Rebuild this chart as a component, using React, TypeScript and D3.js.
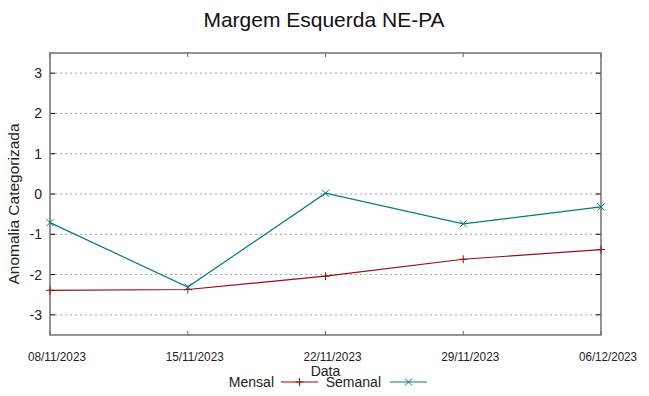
import React from "react";
import * as d3 from "d3";

const dates = ["2023-11-08", "2023-11-15", "2023-11-22", "2023-11-29", "2023-12-06"];
const tickLabels = ["08/11/2023", "15/11/2023", "22/11/2023", "29/11/2023", "06/12/2023"];
const mensal = [-2.39, -2.37, -2.04, -1.62, -1.38];
const semanal = [-0.71, -2.31, 0.02, -0.74, -0.32];
const yTicks = [-3, -2, -1, 0, 1, 2, 3];

const W = 649, H = 396;
const L = 50, R = 601, T = 53, B = 335;
const FONT = "'Liberation Sans', Arial, sans-serif";
const RED = "#960f0f";
const TEAL = "#007b7b";

export default function App() {
  const parse = d3.timeParse("%Y-%m-%d");
  const xd = dates.map((d) => parse(d) as Date);
  const x = d3.scaleTime().domain([xd[0], xd[xd.length - 1]]).range([L, R]);
  const y = d3.scaleLinear().domain([-3.5, 3.5]).range([B, T]);
  const line = d3.line<number>().x((_, i) => x(xd[i])).y((v) => y(v));

  const plus = (cx: number, cy: number, c: string, k: string) => (
    <path key={k} d={`M${cx - 4},${cy}H${cx + 4}M${cx},${cy - 4}V${cy + 4}`} stroke={c} strokeWidth={1} fill="none" />
  );
  const cross = (cx: number, cy: number, c: string, k: string) => (
    <path key={k} d={`M${cx - 3.5},${cy - 3.5}L${cx + 3.5},${cy + 3.5}M${cx - 3.5},${cy + 3.5}L${cx + 3.5},${cy - 3.5}`} stroke={c} strokeWidth={1} fill="none" />
  );

  return (
    <svg width={W} height={H} style={{ position: "absolute", left: 0, top: 0, background: "#fff" }} fontFamily={FONT}>
      <rect x={0} y={0} width={W} height={H} fill="#fff" />
      <text x={324} y={27} textAnchor="middle" fontSize={21} fill="#111">Margem Esquerda NE-PA</text>
      {yTicks.map((t) => (
        <g key={t}>
          <line x1={L} x2={R} y1={y(t)} y2={y(t)} stroke="#a0a0a0" strokeWidth={1} strokeDasharray="2,3" />
          <line x1={L} x2={L + 5} y1={y(t)} y2={y(t)} stroke="#000" strokeWidth={1} />
          <line x1={R - 5} x2={R} y1={y(t)} y2={y(t)} stroke="#000" strokeWidth={1} />
          <text x={42} y={y(t) + 5} textAnchor="end" fontSize={14} fill="#222">{t}</text>
        </g>
      ))}
      {xd.map((d, i) => (
        <g key={i}>
          <line x1={x(d)} x2={x(d)} y1={B} y2={B - 4} stroke="#666" strokeWidth={1} />
          <line x1={x(d)} x2={x(d)} y1={T} y2={T + 4} stroke="#666" strokeWidth={1} />
          <text x={x(d) + 7} y={361} textAnchor="middle" fontSize={12} fill="#222" textLength={58} lengthAdjust="spacingAndGlyphs">{tickLabels[i]}</text>
        </g>
      ))}
      <rect x={L} y={T} width={R - L} height={B - T} fill="none" stroke="#707070" strokeWidth={1.5} />
      <path d={line(mensal) || ""} stroke={RED} strokeWidth={1.2} fill="none" />
      {mensal.map((v, i) => plus(x(xd[i]), y(v), RED, "m" + i))}
      <path d={line(semanal) || ""} stroke={TEAL} strokeWidth={1.2} fill="none" />
      {semanal.map((v, i) => cross(x(xd[i]), y(v), TEAL, "s" + i))}
      <text x={19} y={204} transform="rotate(-90 19 204)" textAnchor="middle" fontSize={15.5} fill="#222">Anomalia Categorizada</text>
      <text x={325.5} y={376} textAnchor="middle" fontSize={14} fill="#222">Data</text>
      <text x={274} y={387} textAnchor="end" fontSize={14} fill="#222">Mensal</text>
      <line x1={281} x2={318} y1={382} y2={382} stroke={RED} strokeWidth={1.2} />
      {plus(299.5, 382, RED, "lm")}
      <text x={381} y={387} textAnchor="end" fontSize={14} fill="#222">Semanal</text>
      <line x1={390} x2={427} y1={382} y2={382} stroke={TEAL} strokeWidth={1.2} />
      {cross(408.5, 382, TEAL, "ls")}
    </svg>
  );
}
